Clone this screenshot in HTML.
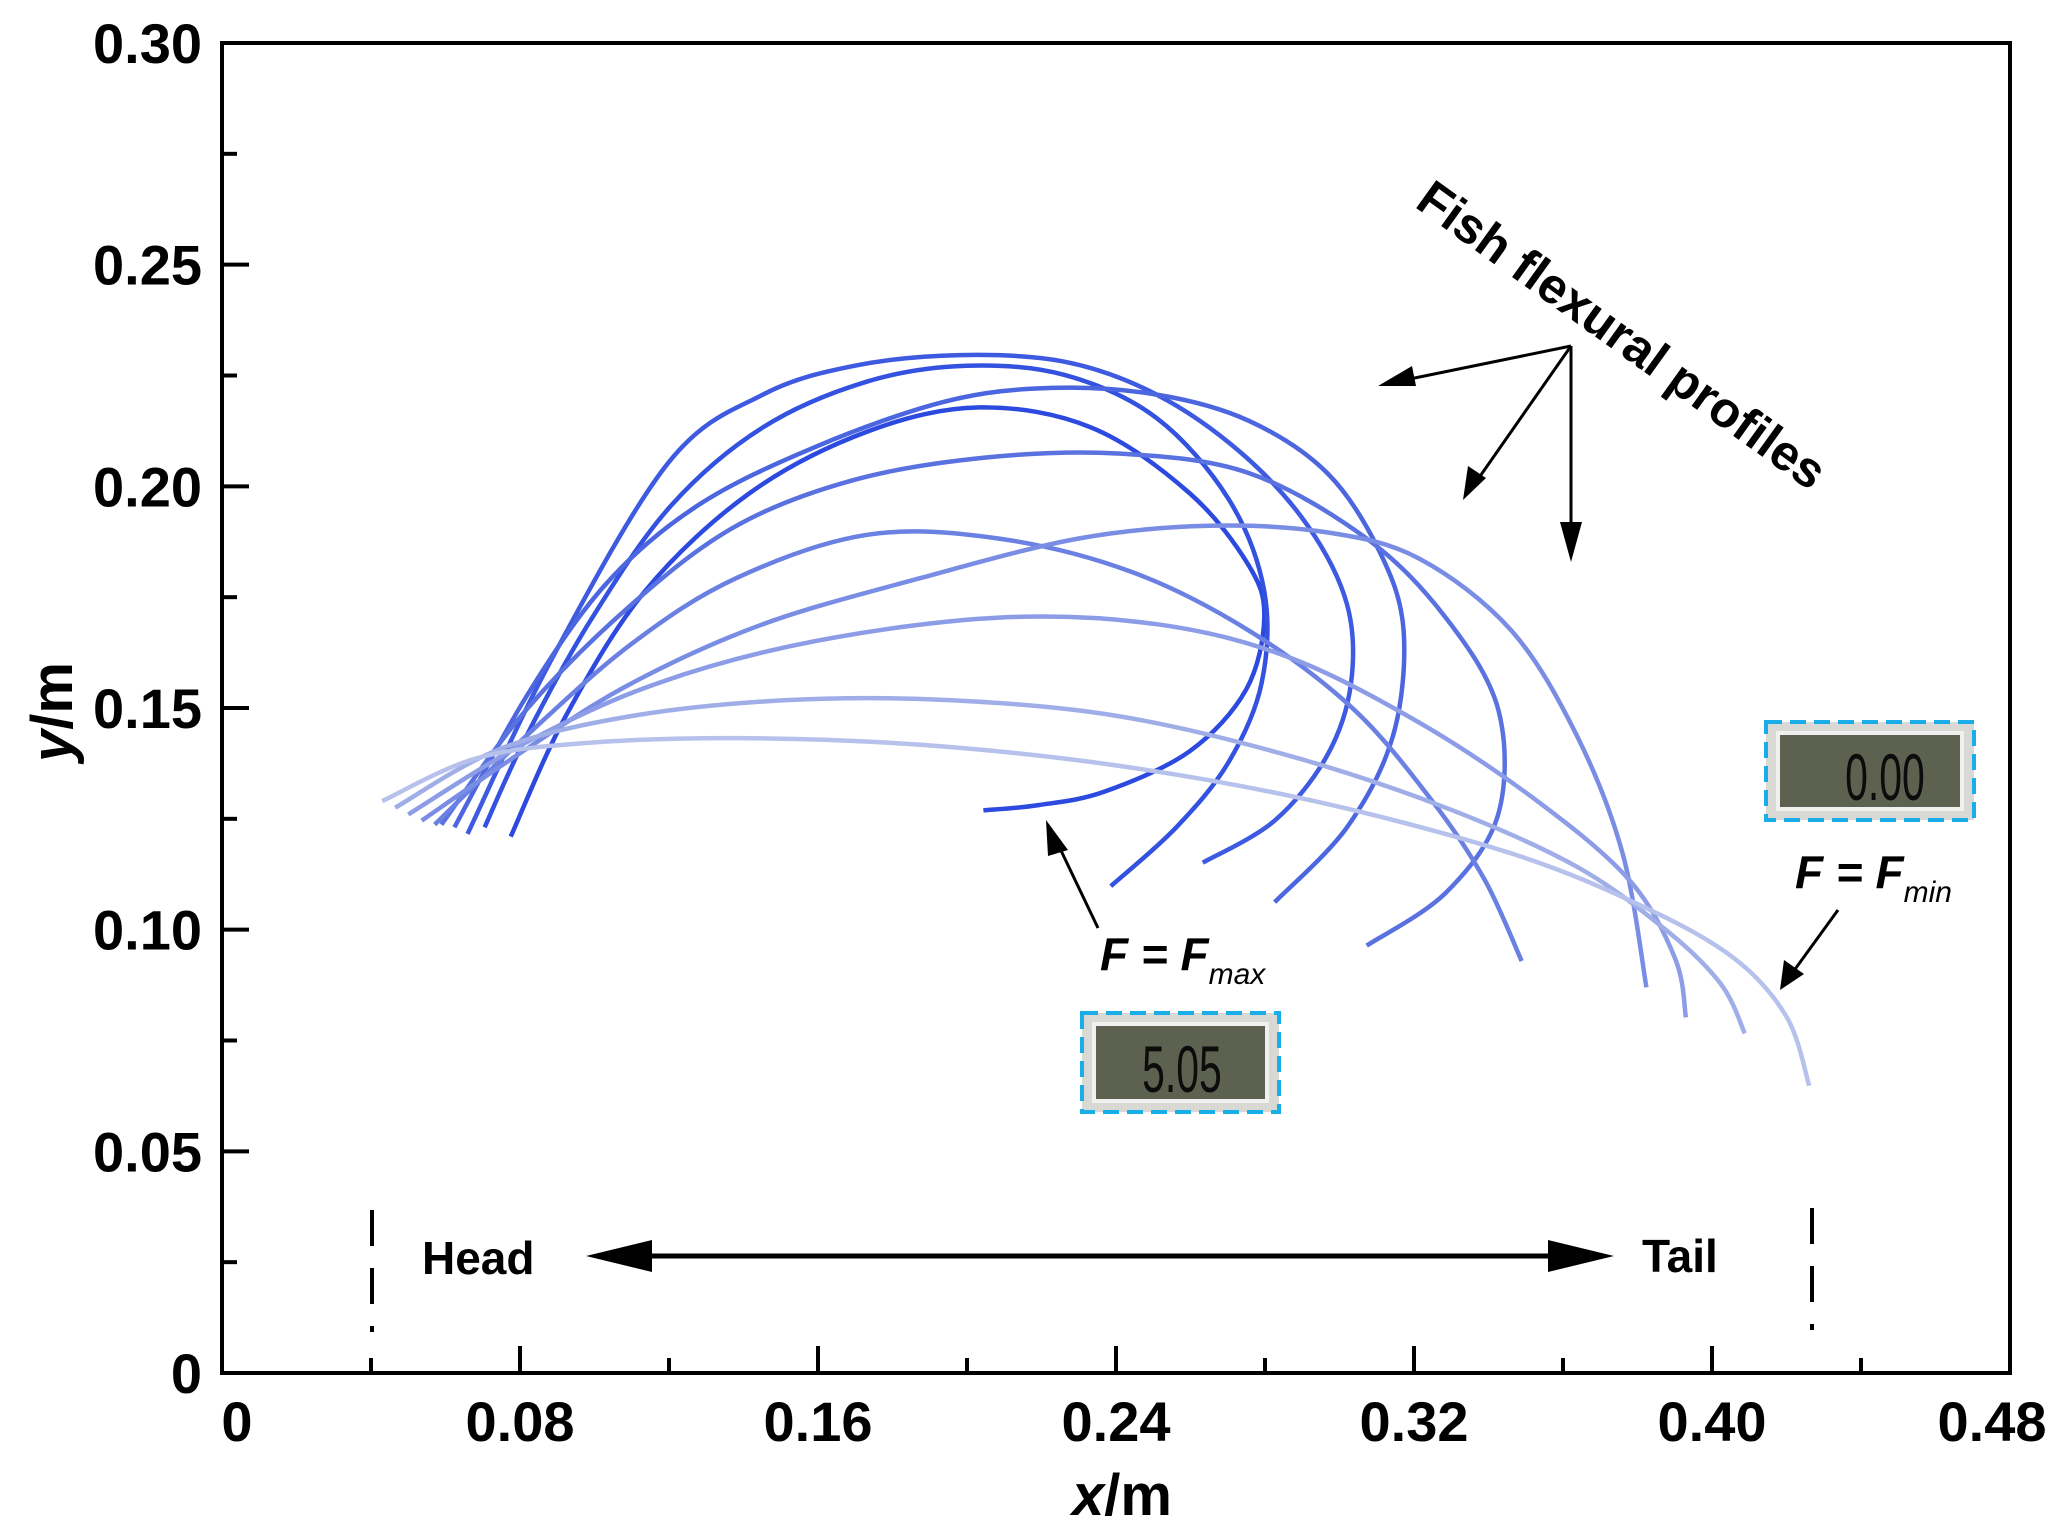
<!DOCTYPE html>
<html><head><meta charset="utf-8"><style>
html,body{margin:0;padding:0;background:#fff;}
svg{display:block;font-family:"Liberation Sans",Arial,sans-serif;}
</style></head><body>
<svg id="chart" width="2059" height="1528" viewBox="0 0 2059 1528" xmlns="http://www.w3.org/2000/svg">
<rect x="0" y="0" width="2059" height="1528" fill="#fff"/>
<g id="curves"></g>
<g id="axes"></g>
<g id="annot">
  <text x="1622" y="352" font-size="50" font-weight="bold" text-anchor="middle" transform="rotate(35.7 1622 335)">Fish flexural profiles</text>
  <g stroke="#000" stroke-width="3" fill="#000">
    <line x1="1571" y1="346" x2="1400" y2="381"/>
    <polygon points="1378,386 1412,366 1416,386" stroke="none"/>
    <line x1="1571" y1="346" x2="1476" y2="482"/>
    <polygon points="1463,500 1468,466 1486,478" stroke="none"/>
    <line x1="1571" y1="346" x2="1571" y2="540"/>
    <polygon points="1571,562 1560,522 1582,522" stroke="none"/>
  </g>
  <g stroke="#000" stroke-width="3" fill="#000">
    <line x1="1098" y1="928" x2="1055" y2="838"/>
    <polygon points="1046,820 1068,850 1048,856" stroke="none"/>
  </g>
  <text x="1100" y="970" font-size="46" font-weight="bold" font-style="italic">F = F<tspan font-size="30" font-weight="normal" dy="14">max</tspan></text>
  <g stroke="#000" stroke-width="3" fill="#000">
    <line x1="1838" y1="910" x2="1793" y2="972"/>
    <polygon points="1780,990 1784,960 1804,974" stroke="none"/>
  </g>
  <text x="1795" y="888" font-size="46" font-weight="bold" font-style="italic">F = F<tspan font-size="30" font-weight="normal" dy="14">min</tspan></text>
  <g>
    <rect x="1082" y="1013" width="197" height="99" fill="#d8d8d4" stroke="#19aee8" stroke-width="4" stroke-dasharray="16 8"/>
    <rect x="1094" y="1024" width="173" height="77" fill="#5d6150" stroke="#f0f0ee" stroke-width="4"/>
    <text x="1182" y="1092" font-size="66" fill="#0c0c0c" text-anchor="middle" transform="translate(1182 0) scale(0.62 1) translate(-1182 0)">5.05</text>
  </g>
  <g>
    <rect x="1766" y="722" width="208" height="98" fill="#d8d8d4" stroke="#19aee8" stroke-width="4" stroke-dasharray="16 8"/>
    <rect x="1778" y="733" width="184" height="76" fill="#5d6150" stroke="#f0f0ee" stroke-width="4"/>
    <text x="1885" y="800" font-size="66" fill="#0c0c0c" text-anchor="middle" transform="translate(1885 0) scale(0.62 1) translate(-1885 0)">0.00</text>
  </g>
  <g fill="#000">
    <line x1="620" y1="1256" x2="1580" y2="1256" stroke="#000" stroke-width="5"/>
    <polygon points="586,1256 652,1240 652,1272"/>
    <polygon points="1614,1256 1548,1240 1548,1272"/>
  </g>
  <text x="422" y="1274" font-size="46" font-weight="bold">Head</text>
  <text x="1642" y="1272" font-size="46" font-weight="bold">Tail</text>
  <line x1="372" y1="1210" x2="372" y2="1332" stroke="#000" stroke-width="4" stroke-dasharray="36 22"/>
  <line x1="1812" y1="1208" x2="1812" y2="1330" stroke="#000" stroke-width="4" stroke-dasharray="36 22"/>
</g>
</svg>
<script>
// profile data (x in m, y in m), ordered from F=Fmax to F=Fmin
const c1x=[0.0775,0.0923,0.1135,0.1417,0.1734,0.2033,0.2333,0.2597,0.2756,0.2798,0.2749,0.2597,0.2368,0.2192,0.2044];
const c1y=[0.1210,0.1482,0.1763,0.1985,0.2124,0.2178,0.2133,0.1985,0.1822,0.1704,0.1541,0.1402,0.1311,0.1281,0.1269];
const c2x=[0.0705,0.0818,0.0994,0.1205,0.1452,0.1734,0.1998,0.2263,0.2509,0.2703,0.2798,0.2791,0.2703,0.2562,0.2386];
const c2y=[0.1231,0.1438,0.1704,0.1956,0.2133,0.2237,0.2272,0.2251,0.2154,0.1970,0.1763,0.1556,0.1379,0.1231,0.1098];
const c3x=[0.0659,0.0888,0.1198,0.1452,0.1699,0.1981,0.2263,0.2509,0.2738,0.2915,0.3020,0.3031,0.2967,0.2826,0.2633];
const c3y=[0.1216,0.1615,0.2053,0.2207,0.2272,0.2296,0.2281,0.2207,0.2074,0.1911,0.1734,0.1556,0.1393,0.1246,0.1151];
const c4x=[0.0624,0.0818,0.1029,0.1276,0.1593,0.1945,0.2227,0.2509,0.2756,0.2967,0.3108,0.3172,0.3144,0.3020,0.2826];
const c4y=[0.1231,0.1527,0.1778,0.1956,0.2089,0.2192,0.2222,0.2207,0.2148,0.2030,0.1852,0.1675,0.1438,0.1231,0.1062];
const c5x=[0.0589,0.0818,0.1100,0.1381,0.1699,0.2051,0.2404,0.2756,0.3073,0.3285,0.3426,0.3426,0.3285,0.3073];
const c5y=[0.1237,0.1497,0.1734,0.1911,0.2015,0.2065,0.2074,0.2030,0.1882,0.1704,0.1497,0.1260,0.1083,0.0964];
const c6x=[0.0571,0.0818,0.1100,0.1381,0.1734,0.2086,0.2439,0.2756,0.3038,0.3249,0.3390,0.3489];
const c6y=[0.1237,0.1438,0.1645,0.1793,0.1891,0.1882,0.1808,0.1675,0.1497,0.1290,0.1112,0.0929];
const c7x=[0.0536,0.0818,0.1100,0.1452,0.1875,0.2298,0.2650,0.2967,0.3214,0.3461,0.3637,0.3760,0.3824];
const c7y=[0.1246,0.1408,0.1556,0.1689,0.1793,0.1882,0.1911,0.1896,0.1837,0.1675,0.1438,0.1172,0.0870];
const c8x=[0.0500,0.0818,0.1170,0.1593,0.2086,0.2509,0.2862,0.3214,0.3531,0.3778,0.3901,0.3930];
const c8y=[0.1260,0.1423,0.1556,0.1651,0.1704,0.1689,0.1615,0.1467,0.1290,0.1112,0.0935,0.0802];
const c9x=[0.0465,0.0747,0.1100,0.1522,0.1945,0.2404,0.2862,0.3285,0.3637,0.3884,0.4025,0.4088];
const c9y=[0.1275,0.1408,0.1482,0.1518,0.1518,0.1482,0.1393,0.1275,0.1142,0.0994,0.0876,0.0766];
const c10x=[0.0430,0.0677,0.0959,0.1381,0.1875,0.2404,0.2932,0.3461,0.3813,0.4060,0.4201,0.4261];
const c10y=[0.1290,0.1385,0.1420,0.1432,0.1417,0.1370,0.1290,0.1172,0.1053,0.0935,0.0802,0.0648];
const xTicks=[0,0.08,0.16,0.24,0.32,0.40,0.48];
const xTickLabels=["0","0.08","0.16","0.24","0.32","0.40","0.48"];
const yTicks=[0,0.05,0.10,0.15,0.20,0.25,0.30];
const yTickLabels=["0","0.05","0.10","0.15","0.20","0.25","0.30"];

const NS="http://www.w3.org/2000/svg";
const L=222,R=2010,T=43,B=1373,XMAX=0.48,YMAX=0.30;
function sx(v){return L+v/XMAX*(R-L);}
function sy(v){return B-v/YMAX*(B-T);}
function mk(tag,attrs,parent){const e=document.createElementNS(NS,tag);for(const k in attrs)e.setAttribute(k,attrs[k]);parent.appendChild(e);return e;}

const series=[[c1x,c1y],[c2x,c2y],[c3x,c3y],[c4x,c4y],[c5x,c5y],[c6x,c6y],[c7x,c7y],[c8x,c8y],[c9x,c9y],[c10x,c10y]];
const colors=["#2c4ae0","#3452e0","#3e5ae0","#4c66e0","#5a72e0","#6a80e2","#7a8de4","#8c9ce6","#a0aee8","#b6c1ec"];
const cg=document.getElementById('curves');
series.forEach((s,i)=>{
  const p=s[0].map((x,j)=>[sx(x),sy(s[1][j])]);
  let d="M"+p[0][0].toFixed(1)+","+p[0][1].toFixed(1);
  for(let j=0;j<p.length-1;j++){
    const p0=p[j-1]||p[j],p1=p[j],p2=p[j+1],p3=p[j+2]||p[j+1];
    const c1=[p1[0]+(p2[0]-p0[0])/6,p1[1]+(p2[1]-p0[1])/6];
    const c2=[p2[0]-(p3[0]-p1[0])/6,p2[1]-(p3[1]-p1[1])/6];
    d+=" C"+c1[0].toFixed(1)+","+c1[1].toFixed(1)+" "+c2[0].toFixed(1)+","+c2[1].toFixed(1)+" "+p2[0].toFixed(1)+","+p2[1].toFixed(1);
  }
  const path=mk('path',{d:d,fill:"none",stroke:colors[i],"stroke-width":4.5,"stroke-linecap":"butt"},cg);
  
  
});

const ag=document.getElementById('axes');
const frame=mk('rect',{x:L,y:T,width:R-L,height:B-T,fill:"none",stroke:"#000","stroke-width":4},ag);


for(let k=0;k<=12;k++){
  const v=k*0.04,X=sx(v),len=(k%2===0)?27:15;
  const t=mk('line',{x1:X,y1:B,x2:X,y2:B-len,stroke:"#000","stroke-width":4},ag);
  
  
}
for(let k=0;k<=12;k++){
  const v=k*0.025,Y=sy(v),len=(k%2===0)?27:15;
  const t=mk('line',{x1:L,y1:Y,x2:L+len,y2:Y,stroke:"#000","stroke-width":4},ag);
  
  
}
xTicks.forEach((v,i)=>{
  let X=sx(v); if(i===0)X=237; if(i===xTicks.length-1)X=1992;
  const t=mk('text',{x:X,y:1441,"font-size":56,"font-weight":"bold","text-anchor":"middle"},ag);
  t.textContent=xTickLabels[i];
  
  
});
yTicks.forEach((v,i)=>{
  const t=mk('text',{x:202,y:sy(v)+20,"font-size":56,"font-weight":"bold","text-anchor":"end"},ag);
  t.textContent=yTickLabels[i];
  
  
});
const xt=mk('text',{x:1122,y:1515,"font-size":58,"font-weight":"bold","text-anchor":"middle"},ag);
xt.innerHTML='<tspan font-style="italic">x</tspan>/m';


const yt=mk('text',{x:52,y:712,"font-size":58,"font-weight":"bold","text-anchor":"middle",transform:"rotate(-90 52 712) translate(0 20)"},ag);
yt.innerHTML='<tspan font-style="italic">y</tspan>/m';


</script>
</body></html>
